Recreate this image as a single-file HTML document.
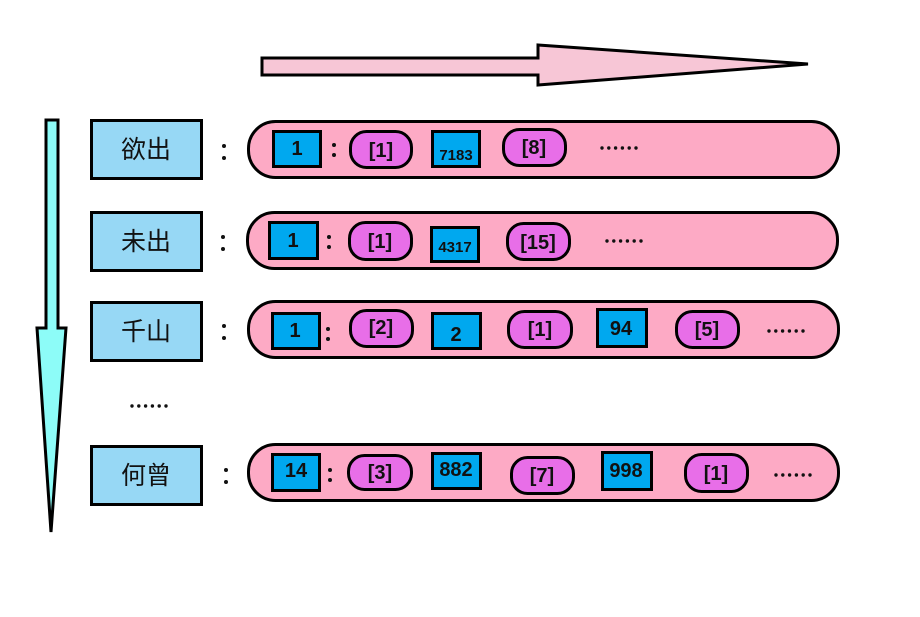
<!DOCTYPE html>
<html><head><meta charset="utf-8"><style>
html,body{margin:0;padding:0;background:#fff;width:920px;height:617px;overflow:hidden}
svg{display:block}
.n{font-family:"Liberation Sans","DejaVu Sans",sans-serif;font-weight:bold;font-size:20px;fill:#111;text-anchor:middle}
.c{font-family:"Liberation Sans","Noto Sans CJK SC",sans-serif;font-size:25px;fill:#111;text-anchor:middle}
</style></head><body>
<svg width="920" height="617" viewBox="0 0 920 617">
<defs><g id="dots" fill="#111"><circle cx="0" cy="0" r="1.7"/><circle cx="6.8" cy="0" r="1.7"/><circle cx="13.6" cy="0" r="1.7"/><circle cx="20.4" cy="0" r="1.7"/><circle cx="27.2" cy="0" r="1.7"/><circle cx="34" cy="0" r="1.7"/></g></defs>
<polygon points="262,58 538,58 538,45 808,64 538,85 538,75 262,75" fill="#f7c6d6" stroke="#000" stroke-width="3" stroke-linejoin="miter"/>
<polygon points="46,120 58,120 58,328 66,328 51,532 37,328 46,328" fill="#8dfcf8" stroke="#000" stroke-width="3"/>
<g fill="#97d8f5" stroke="#000" stroke-width="3">
<rect x="91.5" y="120.5" width="110" height="58"/>
<rect x="91.5" y="212.5" width="110" height="58"/>
<rect x="91.5" y="302.5" width="110" height="58"/>
<rect x="91.5" y="446.5" width="110" height="58"/>
</g>
<text class="c" x="146" y="158">欲出</text>
<text class="c" x="146" y="250">未出</text>
<text class="c" x="146" y="340">千山</text>
<text class="c" x="146" y="484">何曾</text>
<g fill="#111"><circle cx="224" cy="146" r="2"/><circle cx="224" cy="158" r="2"/>
<circle cx="223" cy="237" r="2"/><circle cx="223" cy="249" r="2"/>
<circle cx="224" cy="326" r="2"/><circle cx="224" cy="338" r="2"/>
<circle cx="226" cy="470" r="2"/><circle cx="226" cy="482" r="2"/></g>
<use href="#dots" x="132" y="406"/>
<g fill="#fdaac5" stroke="#000" stroke-width="3">
<rect x="248.5" y="121.5" width="590" height="56" rx="27"/>
<rect x="247.5" y="212.5" width="590" height="56" rx="27"/>
<rect x="248.5" y="301.5" width="590" height="56" rx="27"/>
<rect x="248.5" y="444.5" width="590" height="56" rx="27"/>
</g>
<g fill="#00a8ef" stroke="#000" stroke-width="3">
<rect x="273.5" y="131.5" width="47" height="35"/>
<rect x="432.5" y="131.5" width="47" height="35"/>
<rect x="269.5" y="222.5" width="48" height="36"/>
<rect x="431.5" y="227.5" width="47" height="34"/>
<rect x="272.5" y="313.5" width="47" height="35"/>
<rect x="432.5" y="313.5" width="48" height="35"/>
<rect x="597.5" y="309.5" width="49" height="37"/>
<rect x="272.5" y="454.5" width="47" height="36"/>
<rect x="432.5" y="453.5" width="48" height="35"/>
<rect x="602.5" y="452.5" width="49" height="37"/>
</g>
<g fill="#e86ee8" stroke="#000" stroke-width="3">
<rect x="350.5" y="131.5" width="61" height="36" rx="16"/>
<rect x="503.5" y="129.5" width="62" height="36" rx="16"/>
<rect x="349.5" y="222.5" width="62" height="37" rx="16"/>
<rect x="507.5" y="223.5" width="62" height="36" rx="16"/>
<rect x="350.5" y="310.5" width="62" height="36" rx="16"/>
<rect x="508.5" y="311.5" width="63" height="36" rx="16"/>
<rect x="676.5" y="311.5" width="62" height="36" rx="16"/>
<rect x="348.5" y="455.5" width="63" height="34" rx="16"/>
<rect x="511.5" y="457.5" width="62" height="36" rx="16"/>
<rect x="685.5" y="454.5" width="62" height="37" rx="16"/>
</g>
<g fill="#111"><circle cx="334" cy="145" r="2"/><circle cx="334" cy="155" r="2"/>
<circle cx="329" cy="237" r="2"/><circle cx="329" cy="247" r="2"/>
<circle cx="328" cy="329" r="2"/><circle cx="328" cy="339" r="2"/>
<circle cx="330" cy="470" r="2"/><circle cx="330" cy="480" r="2"/></g>
<text class="n" x="297" y="155">1</text>
<text class="n" x="381" y="157">[1]</text>
<text class="n" x="456" y="160" style="font-size:15px">7183</text>
<text class="n" x="534" y="154">[8]</text>
<use href="#dots" x="602" y="148"/>
<text class="n" x="293" y="247">1</text>
<text class="n" x="380" y="248">[1]</text>
<text class="n" x="455" y="252" style="font-size:15px">4317</text>
<text class="n" x="538" y="249">[15]</text>
<use href="#dots" x="607" y="241"/>
<text class="n" x="295" y="337">1</text>
<text class="n" x="381" y="334">[2]</text>
<text class="n" x="456" y="341">2</text>
<text class="n" x="540" y="336">[1]</text>
<text class="n" x="621" y="335">94</text>
<text class="n" x="707" y="336">[5]</text>
<use href="#dots" x="769" y="331"/>
<text class="n" x="296" y="477">14</text>
<text class="n" x="380" y="479">[3]</text>
<text class="n" x="456" y="476">882</text>
<text class="n" x="542" y="482">[7]</text>
<text class="n" x="626" y="477">998</text>
<text class="n" x="716" y="480">[1]</text>
<use href="#dots" x="776" y="475"/>
</svg>
</body></html>
